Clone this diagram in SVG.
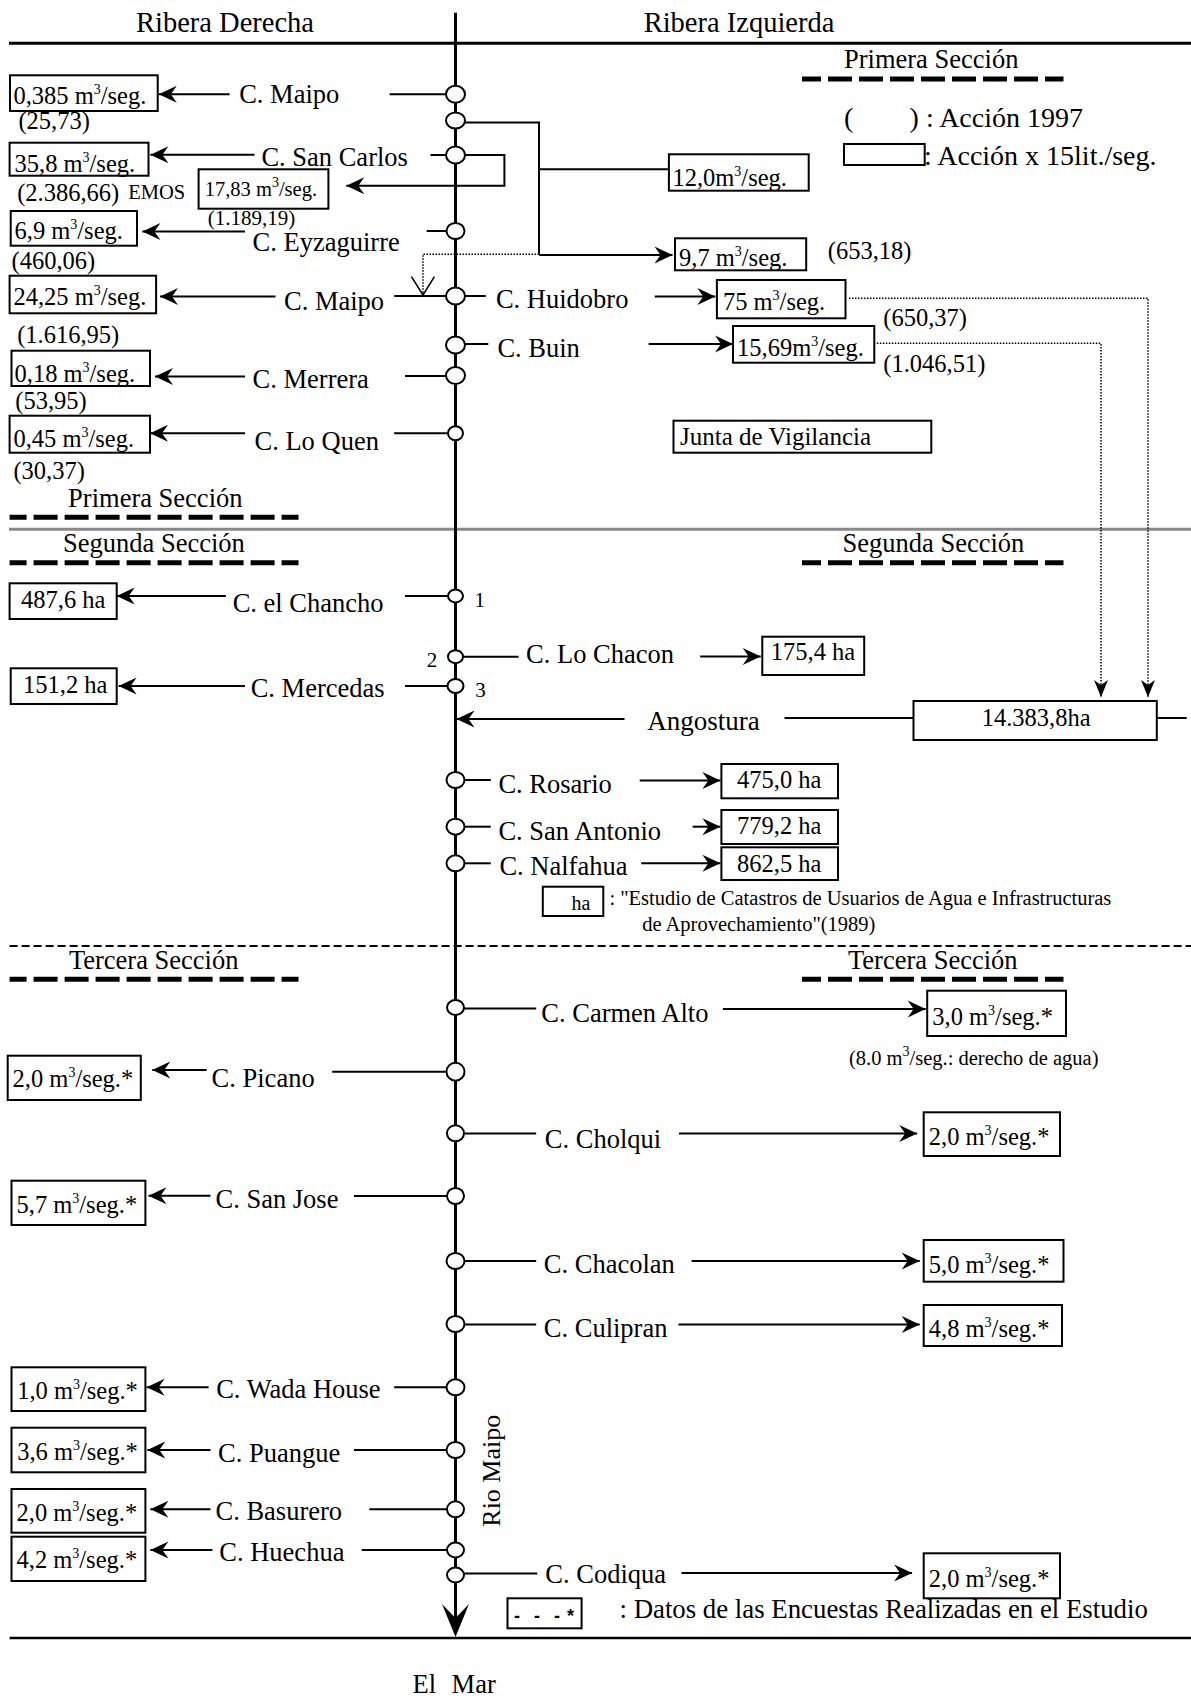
<svg xmlns="http://www.w3.org/2000/svg" width="1191" height="1702" viewBox="0 0 1191 1702">
<style>
.t{font-family:"Liberation Serif","Times New Roman",serif;fill:#000}
.lb{font-size:26.5px}
.v{font-size:24.5px}
.s{font-size:20.5px}
.h{font-size:28.5px}
.sup{font-size:14px}
.box{fill:#fff;stroke:#000;stroke-width:2}
.ln{fill:none;stroke:#000;stroke-width:2}
.riv{fill:none;stroke:#000;stroke-width:3}
.dot{fill:none;stroke:#000;stroke-width:1.5;stroke-dasharray:1.5 1.5}
.sec{fill:none;stroke:#000;stroke-width:5;stroke-dasharray:24 7}
.nd{fill:#fff;stroke:#000;stroke-width:2}
</style>
<defs>
<marker id="ah" viewBox="-20 -10 22 20" refX="0" refY="0" markerWidth="22" markerHeight="20" markerUnits="userSpaceOnUse" orient="auto">
<path d="M0,0 L-18,-8.5 L-12,0 L-18,8.5 Z" fill="#000"/>
</marker>
<marker id="ahs" viewBox="-20 -10 22 20" refX="0" refY="0" markerWidth="22" markerHeight="20" markerUnits="userSpaceOnUse" orient="auto">
<path d="M0,0 L-17,-7 L-12,0 L-17,7 Z" fill="#000"/>
</marker>
</defs>
<rect width="1191" height="1702" fill="#fff"/>

<g id="frame">
<line x1="9" y1="43.3" x2="1191" y2="43.3" stroke="#000" stroke-width="3"/>
<line x1="9" y1="529.3" x2="1191" y2="529.3" stroke="#888" stroke-width="3"/>
<line x1="9.6" y1="946" x2="1191" y2="946" stroke="#000" stroke-width="2" stroke-dasharray="8 4"/>
<line x1="9.6" y1="1638" x2="1191" y2="1638" stroke="#000" stroke-width="2.5"/>
<text class="t h" x="136" y="31.7">Ribera Derecha</text>
<text class="t h" x="643.7" y="31.7">Ribera Izquierda</text>
<text class="t lb" x="844" y="67.7">Primera Sección</text>
<line class="sec" x1="802" y1="79" x2="1063.5" y2="79" stroke-dashoffset="5"/>
<text class="t lb" x="68.1" y="506.7">Primera Sección</text>
<line class="sec" x1="9.6" y1="517.3" x2="298.5" y2="517.3" stroke-dashoffset="7"/>
<text class="t lb" x="63.1" y="551.7">Segunda Sección</text>
<line class="sec" x1="9.6" y1="562.7" x2="298.5" y2="562.7" stroke-dashoffset="7"/>
<text class="t lb" x="842.5" y="551.7">Segunda Sección</text>
<line class="sec" x1="802" y1="562.7" x2="1063.5" y2="562.7" stroke-dashoffset="5"/>
<text class="t lb" x="68.9" y="969.3">Tercera Sección</text>
<line class="sec" x1="9.6" y1="979.3" x2="298.5" y2="979.3" stroke-dashoffset="7"/>
<text class="t lb" x="848" y="969.3">Tercera Sección</text>
<line class="sec" x1="802" y1="979.3" x2="1063.5" y2="979.3" stroke-dashoffset="5"/>
</g>

<g id="legend">
<text class="t" style="font-size:28px" x="844" y="127">(</text>
<text class="t" style="font-size:28px" x="909.6" y="127">) : Acción 1997</text>
<rect class="box" x="844" y="144" width="80.7" height="21"/>
<text class="t" style="font-size:28px" x="924" y="165">: Acción x 15lit./seg.</text>
<rect class="box" x="542.8" y="886.7" width="60.5" height="29.3"/>
<text class="t" style="font-size:20px" x="571.5" y="910">ha</text>
<text class="t s" x="609.4" y="905">: "Estudio de Catastros de Usuarios de Agua e Infrastructuras</text>
<text class="t s" x="642.2" y="930.7">de Aprovechamiento"(1989)</text>
<rect class="box" x="507.5" y="1598.3" width="74.1" height="30"/>
<text style="font-family:'Liberation Sans',Arial,sans-serif;font-size:18px;font-weight:bold" x="514 534 554 567" y="1622">---*</text>
<text class="t" style="font-size:26.8px" x="619.5" y="1618.3">: Datos de las Encuestas Realizadas en el Estudio</text>
</g>

<g id="connectors">
<path class="riv" d="M455.5,12.7 V1620"/>
<path d="M455.5,1637 L442,1604 L455.5,1618 L469,1604 Z" fill="#000"/>
<path class="ln" d="M389.6,94.3 H446"/>
<path class="ln" d="M465,122.5 H539 V255"/>
<path class="ln" d="M539,169.3 H669"/>
<path class="ln" d="M539,255 H672.5" marker-end="url(#ah)"/>
<path class="dot" d="M539,254.3 H423 V295"/>
<path class="ln" style="stroke-width:1.5" d="M411.4,276.7 L423,295 L434.4,276.7"/>
<path class="ln" d="M430.5,155 H446"/>
<path class="ln" d="M465,155 H504.4 V185.7 H346.3" marker-end="url(#ah)"/>
<path class="ln" d="M426.7,231 H446"/>
<path class="ln" d="M394.2,296 H446"/>
<path class="ln" d="M465,296 H485.8"/>
<path class="ln" d="M654.8,296.5 H715.3" marker-end="url(#ah)"/>
<path class="ln" d="M465,344 H488.3"/>
<path class="ln" d="M648.7,344 H733" marker-end="url(#ah)"/>
<path class="ln" d="M405,376 H446"/>
<path class="ln" d="M394.2,433.3 H448"/>
<path class="dot" d="M849,298.3 H1148 V697" marker-end="url(#ahs)"/>
<path class="dot" d="M876.8,343.3 H1101 V697" marker-end="url(#ahs)"/>
<path class="ln" d="M405,596 H448"/>
<path class="ln" d="M463,656.7 H518.6"/>
<path class="ln" d="M700.2,656.5 H760.7" marker-end="url(#ah)"/>
<path class="ln" d="M405,686 H447"/>
<path class="ln" d="M624.5,719 H456.5" marker-end="url(#ah)"/>
<path class="ln" d="M784.5,718 H913.5"/>
<path class="ln" d="M1156.8,718 H1186.7"/>
<path class="ln" d="M464,780 H490.8"/>
<path class="ln" d="M639.7,780.5 H720.4" marker-end="url(#ah)"/>
<path class="ln" d="M464,826.7 H490.8"/>
<path class="ln" d="M692.6,826.7 H720.4" marker-end="url(#ah)"/>
<path class="ln" d="M464,863.3 H490.8"/>
<path class="ln" d="M641.2,863.3 H720.4" marker-end="url(#ah)"/>
<path class="ln" d="M463,1008.5 H536.2"/>
<path class="ln" d="M722.9,1009 H925.7" marker-end="url(#ah)"/>
<path class="ln" d="M332.2,1071.7 H446"/>
<path class="ln" d="M464,1133.5 H536.2"/>
<path class="ln" d="M679,1133.5 H917.2" marker-end="url(#ah)"/>
<path class="ln" d="M354,1196 H446"/>
<path class="ln" d="M464,1261 H536.2"/>
<path class="ln" d="M691.6,1261 H919.7" marker-end="url(#ah)"/>
<path class="ln" d="M464,1324.5 H536.2"/>
<path class="ln" d="M678.5,1324.5 H919.7" marker-end="url(#ah)"/>
<path class="ln" d="M394.2,1387.3 H446"/>
<path class="ln" d="M354,1450 H446"/>
<path class="ln" d="M369.3,1509.3 H446"/>
<path class="ln" d="M361.7,1550 H446"/>
<path class="ln" d="M464,1573.5 H537.2"/>
<path class="ln" d="M681.5,1573 H912.1" marker-end="url(#ah)"/>
<path class="ln" d="M229.6,94.3 H158.8" marker-end="url(#ah)"/>
<path class="ln" d="M254.5,154.7 H150.4" marker-end="url(#ah)"/>
<path class="ln" d="M245,231.5 H142.4" marker-end="url(#ah)"/>
<path class="ln" d="M275.5,296.5 H160" marker-end="url(#ah)"/>
<path class="ln" d="M245,376.5 H155" marker-end="url(#ah)"/>
<path class="ln" d="M245,433.3 H150" marker-end="url(#ah)"/>
<path class="ln" d="M225.8,596 H116.7" marker-end="url(#ah)"/>
<path class="ln" d="M245,686 H118.6" marker-end="url(#ah)"/>
<path class="ln" d="M206.7,1070 H152.3" marker-end="url(#ah)"/>
<path class="ln" d="M210.5,1195.7 H148.5" marker-end="url(#ah)"/>
<path class="ln" d="M208.6,1387.3 H146.6" marker-end="url(#ah)"/>
<path class="ln" d="M210.5,1450 H147.3" marker-end="url(#ah)"/>
<path class="ln" d="M210.5,1509.3 H150.4" marker-end="url(#ah)"/>
<path class="ln" d="M212.4,1550 H150.4" marker-end="url(#ah)"/>
</g>

<g id="junctions">
<ellipse class="nd" cx="455.5" cy="94.3" rx="9.5" ry="8.5"/>
<ellipse class="nd" cx="455.5" cy="120.5" rx="9.5" ry="8"/>
<ellipse class="nd" cx="455.5" cy="155" rx="9.5" ry="8.5"/>
<ellipse class="nd" cx="455.5" cy="231" rx="9" ry="8"/>
<ellipse class="nd" cx="455.5" cy="296" rx="9.5" ry="8.5"/>
<ellipse class="nd" cx="455.5" cy="345" rx="9.5" ry="8.5"/>
<ellipse class="nd" cx="455.5" cy="375.5" rx="9.5" ry="8.5"/>
<ellipse class="nd" cx="455.5" cy="433.3" rx="7.5" ry="7"/>
<ellipse class="nd" cx="455.5" cy="596" rx="7.5" ry="6.5"/>
<ellipse class="nd" cx="455.5" cy="656.7" rx="7.5" ry="6.5"/>
<ellipse class="nd" cx="455.5" cy="686" rx="8" ry="7"/>
<ellipse class="nd" cx="455.5" cy="780" rx="9" ry="8"/>
<ellipse class="nd" cx="455.5" cy="826.7" rx="9" ry="8"/>
<ellipse class="nd" cx="455.5" cy="863.3" rx="9" ry="8"/>
<ellipse class="nd" cx="455.5" cy="1007.5" rx="8.5" ry="7.5"/>
<ellipse class="nd" cx="455.5" cy="1071.7" rx="9" ry="9"/>
<ellipse class="nd" cx="455.5" cy="1133.3" rx="8.5" ry="8"/>
<ellipse class="nd" cx="455.5" cy="1196" rx="8.5" ry="8"/>
<ellipse class="nd" cx="455.5" cy="1261" rx="9" ry="8"/>
<ellipse class="nd" cx="455.5" cy="1324" rx="9" ry="8"/>
<ellipse class="nd" cx="455.5" cy="1387.3" rx="9" ry="8"/>
<ellipse class="nd" cx="455.5" cy="1450" rx="9" ry="8"/>
<ellipse class="nd" cx="455.5" cy="1509.3" rx="8.5" ry="8"/>
<ellipse class="nd" cx="455.5" cy="1550" rx="8.5" ry="7.5"/>
<ellipse class="nd" cx="455.5" cy="1575" rx="8.5" ry="7.5"/>
<text class="t" style="font-size:21px" x="474.6" y="606.7">1</text>
<text class="t" style="font-size:21px" x="426.7" y="666.7">2</text>
<text class="t" style="font-size:21px" x="475.3" y="696.7">3</text>
</g>

<g id="labels">
<text class="t lb" x="239.2" y="103.3">C. Maipo</text>
<text class="t lb" x="261.4" y="165.7">C. San Carlos</text>
<text class="t lb" x="252.6" y="250.7">C. Eyzaguirre</text>
<text class="t lb" x="284" y="310">C. Maipo</text>
<text class="t lb" x="495.9" y="308.3">C. Huidobro</text>
<text class="t lb" x="497.4" y="356.7">C. Buin</text>
<text class="t lb" x="252.6" y="388.3">C. Merrera</text>
<text class="t lb" x="254.5" y="450">C. Lo Quen</text>
<text class="t lb" x="232.7" y="611.7">C. el Chancho</text>
<text class="t lb" x="526.1" y="663.3">C. Lo Chacon</text>
<text class="t lb" x="250.7" y="696.7">C. Mercedas</text>
<text class="t" style="font-size:27px" x="647.2" y="730">Angostura</text>
<text class="t lb" x="498.4" y="793.3">C. Rosario</text>
<text class="t lb" x="498.4" y="840">C. San Antonio</text>
<text class="t lb" x="499.4" y="875">C. Nalfahua</text>
<text class="t lb" x="541.3" y="1021.7">C. Carmen Alto</text>
<text class="t lb" x="211.6" y="1087.3">C. Picano</text>
<text class="t lb" x="544.8" y="1148.3">C. Cholqui</text>
<text class="t lb" x="215.5" y="1208.3">C. San Jose</text>
<text class="t lb" x="543.8" y="1273.3">C. Chacolan</text>
<text class="t lb" x="543.8" y="1336.7">C. Culipran</text>
<text class="t lb" x="216.2" y="1398.3">C. Wada House</text>
<text class="t lb" x="218.1" y="1461.7">C. Puangue</text>
<text class="t lb" x="215.5" y="1520">C. Basurero</text>
<text class="t lb" x="219.3" y="1560.7">C. Huechua</text>
<text class="t lb" x="545.3" y="1583.3">C. Codiqua</text>
<text class="t" style="font-size:26px" transform="translate(500,1526.7) rotate(-90)">Rio Maipo</text>
<text class="t lb" x="412.5" y="1693.3">El<tspan x="451.6">Mar</tspan></text>
</g>

<g id="notes">
<text class="t v" x="18.4" y="128.5">(25,73)</text>
<text class="t v" x="17.2" y="200.5">(2.386,66)</text>
<text class="t" style="font-size:20.5px" x="128.2" y="199">EMOS</text>
<text class="t" style="font-size:21px" x="207.8" y="225">(1.189,19)</text>
<text class="t v" x="11.5" y="269">(460,06)</text>
<text class="t v" x="17.2" y="343">(1.616,95)</text>
<text class="t v" x="15.3" y="409">(53,95)</text>
<text class="t v" x="13.4" y="479">(30,37)</text>
<text class="t v" x="827.8" y="259">(653,18)</text>
<text class="t v" x="883.3" y="326">(650,37)</text>
<text class="t v" x="883.3" y="372">(1.046,51)</text>
<text class="t s" x="849" y="1065">(8.0 m<tspan class="sup" dy="-9">3</tspan><tspan dy="9">/seg.: derecho de agua)</tspan></text>
</g>

<g id="box-maipo1"><rect class="box" x="10" y="75.3" width="147.7" height="35.7"/><text class="t v" x="13.4" y="104">0,385 m<tspan class="sup" dy="-10">3</tspan><tspan dy="10">/seg.</tspan></text></g>
<g id="box-sancarlos"><rect class="box" x="9.6" y="142.7" width="138.9" height="33"/><text class="t v" x="14.5" y="171.7">35,8 m<tspan class="sup" dy="-10">3</tspan><tspan dy="10">/seg.</tspan></text></g>
<g id="box-emos"><rect class="box" x="198.6" y="169.3" width="129.8" height="39.4"/><text class="t s" x="204.7" y="195.7">17,83 m<tspan class="sup" dy="-9">3</tspan><tspan dy="9">/seg.</tspan></text></g>
<g id="box-eyzaguirre"><rect class="box" x="10.7" y="211" width="126.3" height="34.7"/><text class="t v" x="14.5" y="239.3">6,9 m<tspan class="sup" dy="-10">3</tspan><tspan dy="10">/seg.</tspan></text></g>
<g id="box-maipo2"><rect class="box" x="9.6" y="275.7" width="146.5" height="37.6"/><text class="t v" x="13.4" y="305">24,25 m<tspan class="sup" dy="-10">3</tspan><tspan dy="10">/seg.</tspan></text></g>
<g id="box-merrera"><rect class="box" x="11.5" y="350.7" width="138.5" height="35.3"/><text class="t v" x="14.5" y="381.7">0,18 m<tspan class="sup" dy="-10">3</tspan><tspan dy="10">/seg.</tspan></text></g>
<g id="box-loquen"><rect class="box" x="9.6" y="415.7" width="140.4" height="37"/><text class="t v" x="13.4" y="447">0,45 m<tspan class="sup" dy="-10">3</tspan><tspan dy="10">/seg.</tspan></text></g>
<g id="box-12"><rect class="box" x="668.9" y="154.3" width="139.8" height="36.4"/><text class="t v" x="672.4" y="185.5">12,0m<tspan class="sup" dy="-10">3</tspan><tspan dy="10">/seg.</tspan></text></g>
<g id="box-97"><rect class="box" x="675" y="238.3" width="131.2" height="32"/><text class="t v" x="679" y="265.5">9,7 m<tspan class="sup" dy="-10">3</tspan><tspan dy="10">/seg.</tspan></text></g>
<g id="box-huidobro"><rect class="box" x="716.9" y="280" width="128.6" height="38.3"/><text class="t v" x="722.9" y="310">75 m<tspan class="sup" dy="-10">3</tspan><tspan dy="10">/seg.</tspan></text></g>
<g id="box-buin"><rect class="box" x="733" y="326" width="141.3" height="36.7"/><text class="t v" x="737" y="356">15,69m<tspan class="sup" dy="-10">3</tspan><tspan dy="10">/seg.</tspan></text></g>
<g id="box-junta"><rect class="box" x="673.5" y="420.7" width="257.8" height="32"/><text class="t" style="font-size:25px" x="680" y="445">Junta de Vigilancia</text></g>
<g id="box-chancho"><rect class="box" x="9.6" y="583.3" width="107.1" height="35.7"/><text class="t v" x="21" y="608.3">487,6 ha</text></g>
<g id="box-lochacon"><rect class="box" x="762.3" y="636.7" width="101.9" height="38.3"/><text class="t v" x="770.8" y="660">175,4 ha</text></g>
<g id="box-mercedas"><rect class="box" x="10.7" y="668.3" width="106" height="35.7"/><text class="t v" x="23" y="693.3">151,2 ha</text></g>
<g id="box-angostura"><rect class="box" x="913.5" y="701" width="243.3" height="39"/><text class="t v" x="981.7" y="726">14.383,8ha</text></g>
<g id="box-rosario"><rect class="box" x="721.4" y="764" width="116.6" height="34.3"/><text class="t v" x="737" y="788.3">475,0 ha</text></g>
<g id="box-sanantonio"><rect class="box" x="721.4" y="810" width="116.6" height="34"/><text class="t v" x="737" y="834.3">779,2 ha</text></g>
<g id="box-nalfahua"><rect class="box" x="721.4" y="847.3" width="116.6" height="32.7"/><text class="t v" x="737" y="871.7">862,5 ha</text></g>
<g id="box-carmenalto"><rect class="box" x="927.2" y="990.7" width="138.8" height="45.3"/><text class="t v" x="932.3" y="1025">3,0 m<tspan class="sup" dy="-10">3</tspan><tspan dy="10">/seg.*</tspan></text></g>
<g id="box-picano"><rect class="box" x="7.7" y="1055.7" width="133.1" height="44.3"/><text class="t v" x="12.6" y="1087.3">2,0 m<tspan class="sup" dy="-10">3</tspan><tspan dy="10">/seg.*</tspan></text></g>
<g id="box-cholqui"><rect class="box" x="923.7" y="1112.3" width="136.3" height="43.7"/><text class="t v" x="928.8" y="1145">2,0 m<tspan class="sup" dy="-10">3</tspan><tspan dy="10">/seg.*</tspan></text></g>
<g id="box-sanjose"><rect class="box" x="11.5" y="1180.7" width="133.9" height="44.3"/><text class="t v" x="16.5" y="1212.7">5,7 m<tspan class="sup" dy="-10">3</tspan><tspan dy="10">/seg.*</tspan></text></g>
<g id="box-chacolan"><rect class="box" x="923.7" y="1240" width="139.8" height="41.7"/><text class="t v" x="928.8" y="1273.3">5,0 m<tspan class="sup" dy="-10">3</tspan><tspan dy="10">/seg.*</tspan></text></g>
<g id="box-culipran"><rect class="box" x="923.7" y="1305" width="138.3" height="41"/><text class="t v" x="928.8" y="1337">4,8 m<tspan class="sup" dy="-10">3</tspan><tspan dy="10">/seg.*</tspan></text></g>
<g id="box-wada"><rect class="box" x="11.5" y="1367.3" width="133.9" height="43.7"/><text class="t v" x="17.2" y="1399.3">1,0 m<tspan class="sup" dy="-10">3</tspan><tspan dy="10">/seg.*</tspan></text></g>
<g id="box-puangue"><rect class="box" x="11.5" y="1427.7" width="133.9" height="44.6"/><text class="t v" x="17.2" y="1460">3,6 m<tspan class="sup" dy="-10">3</tspan><tspan dy="10">/seg.*</tspan></text></g>
<g id="box-basurero"><rect class="box" x="11.5" y="1489" width="133.9" height="43.7"/><text class="t v" x="16.5" y="1521">2,0 m<tspan class="sup" dy="-10">3</tspan><tspan dy="10">/seg.*</tspan></text></g>
<g id="box-huechua"><rect class="box" x="11.5" y="1536.7" width="133.9" height="44.3"/><text class="t v" x="16.5" y="1568.3">4,2 m<tspan class="sup" dy="-10">3</tspan><tspan dy="10">/seg.*</tspan></text></g>
<g id="box-codiqua"><rect class="box" x="923.7" y="1553.3" width="136.3" height="45"/><text class="t v" x="928.8" y="1586.7">2,0 m<tspan class="sup" dy="-10">3</tspan><tspan dy="10">/seg.*</tspan></text></g>
</svg>
